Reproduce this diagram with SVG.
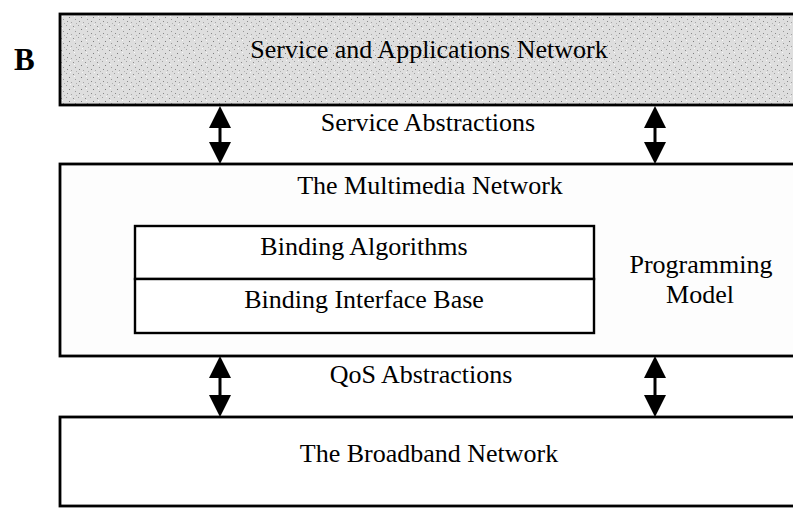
<svg xmlns="http://www.w3.org/2000/svg" width="793" height="508" viewBox="0 0 793 508">
  <style>
    .lbl { font-family: "Liberation Serif", "Times New Roman", serif; font-size: 26px; fill: #000; text-anchor: middle; }
    .tag { font-family: "Liberation Serif", "Times New Roman", serif; font-size: 31px; font-weight: bold; fill: #000; }
    .box { stroke: #000; stroke-width: 2.8; }
    .inner { fill: #fff; stroke: #000; stroke-width: 2.4; }
    .arrow { stroke: #000; stroke-width: 3; fill: none; marker-start: url(#head); marker-end: url(#head); }
  </style>
  <defs>
    <marker id="head" viewBox="0 0 22 22" refX="2" refY="11" markerWidth="22" markerHeight="22" markerUnits="userSpaceOnUse" orient="auto-start-reverse">
      <path d="M0,0 L22,11 L0,22 z" fill="#000"/>
    </marker>
    <pattern id="speckle" width="12" height="12" patternUnits="userSpaceOnUse">
      <rect width="12" height="12" fill="#dedede"/>
      <rect x="1" y="2" width="1" height="1" fill="#8a8a8a"/>
      <rect x="6" y="1" width="1" height="1" fill="#a0a0a0"/>
      <rect x="9" y="5" width="1" height="1" fill="#7c7c7c"/>
      <rect x="3" y="7" width="1" height="1" fill="#989898"/>
      <rect x="7" y="9" width="1" height="1" fill="#888"/>
      <rect x="11" y="10" width="1" height="1" fill="#a5a5a5"/>
      <rect x="4" y="11" width="1" height="1" fill="#b0b0b0"/>
      <rect x="10" y="0" width="1" height="1" fill="#f8f8f8"/>
      <rect x="2" y="4" width="1" height="1" fill="#fafafa"/>
    </pattern>
  </defs>

  <g id="label-b">
    <text class="tag" x="14" y="70">B</text>
  </g>

  <g id="service-network">
    <rect class="box" x="60" y="14" width="760" height="91" fill="url(#speckle)"/>
    <text class="lbl" x="429" y="58">Service and Applications Network</text>
  </g>

  <g id="multimedia-network">
    <rect class="box" x="60" y="164" width="760" height="192" fill="#fdfdfd"/>
    <text class="lbl" x="430" y="194">The Multimedia Network</text>
    <text class="lbl" x="701" y="273">Programming</text>
    <text class="lbl" x="700" y="303">Model</text>
  </g>

  <g id="binding-algorithms">
    <rect class="inner" x="135" y="226" width="459" height="53"/>
    <text class="lbl" x="364" y="255">Binding Algorithms</text>
  </g>

  <g id="binding-interface-base">
    <rect class="inner" x="135" y="279" width="459" height="54"/>
    <text class="lbl" x="364" y="308">Binding Interface Base</text>
  </g>

  <g id="broadband-network">
    <rect class="box" x="60" y="417" width="760" height="89" fill="#fff"/>
    <text class="lbl" x="429" y="462">The Broadband Network</text>
  </g>

  <g id="connectors">
    <line class="arrow" x1="220" y1="126" x2="220" y2="144"/>
    <line class="arrow" x1="655" y1="126" x2="655" y2="144"/>
    <line class="arrow" x1="220" y1="376" x2="220" y2="397"/>
    <line class="arrow" x1="655" y1="376" x2="655" y2="397"/>
    <text class="lbl" x="428" y="131">Service Abstractions</text>
    <text class="lbl" x="421" y="383">QoS Abstractions</text>
  </g>
</svg>
